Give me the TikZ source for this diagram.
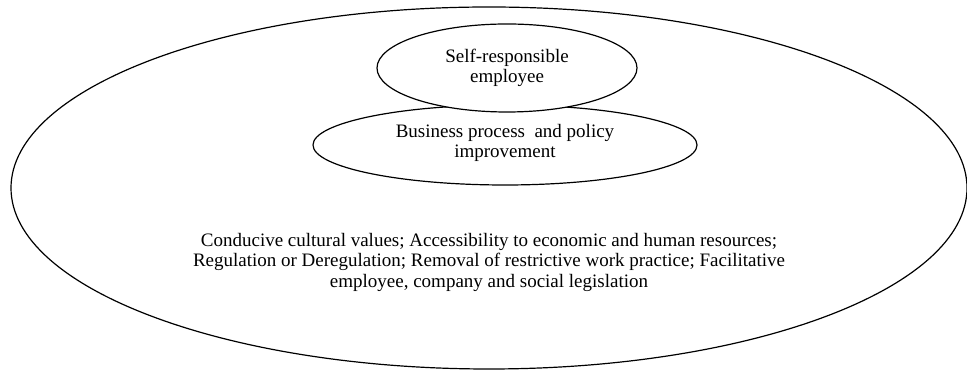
\documentclass[tikz,border=0pt]{standalone}
\usepackage{fontspec}
\setmainfont{Liberation Serif}
\usetikzlibrary{shapes.geometric}
\begin{document}
\begin{tikzpicture}[x=1pt,y=1pt,
  ring/.style={draw=black, line width=1.2pt, ellipse, inner sep=0pt, fill=white},
  lbl/.style={align=center, font=\fontsize{19}{20.5}\selectfont, inner sep=0pt}]
\useasboundingbox (0,0) rectangle (967,371);
\node[ring, minimum width=956pt, minimum height=362pt] (outer) at (489,183) {};
\node[ring, minimum width=384pt, minimum height=80pt] (mid) at (505,226) {};
\node[ring, minimum width=260pt, minimum height=88pt] (top) at (507,303) {};
\node[lbl] (toptext) at (top.center) {Self-responsible\\employee};
\node[lbl] (midtext) at (505,228) {Business process\ \ and policy\\improvement};
\node[lbl] (outertext) at (489,109) {Conducive cultural values; Accessibility to economic and human resources;\\Regulation or Deregulation; Removal of restrictive work practice; Facilitative\\employee, company and social legislation};
\end{tikzpicture}
\end{document}
